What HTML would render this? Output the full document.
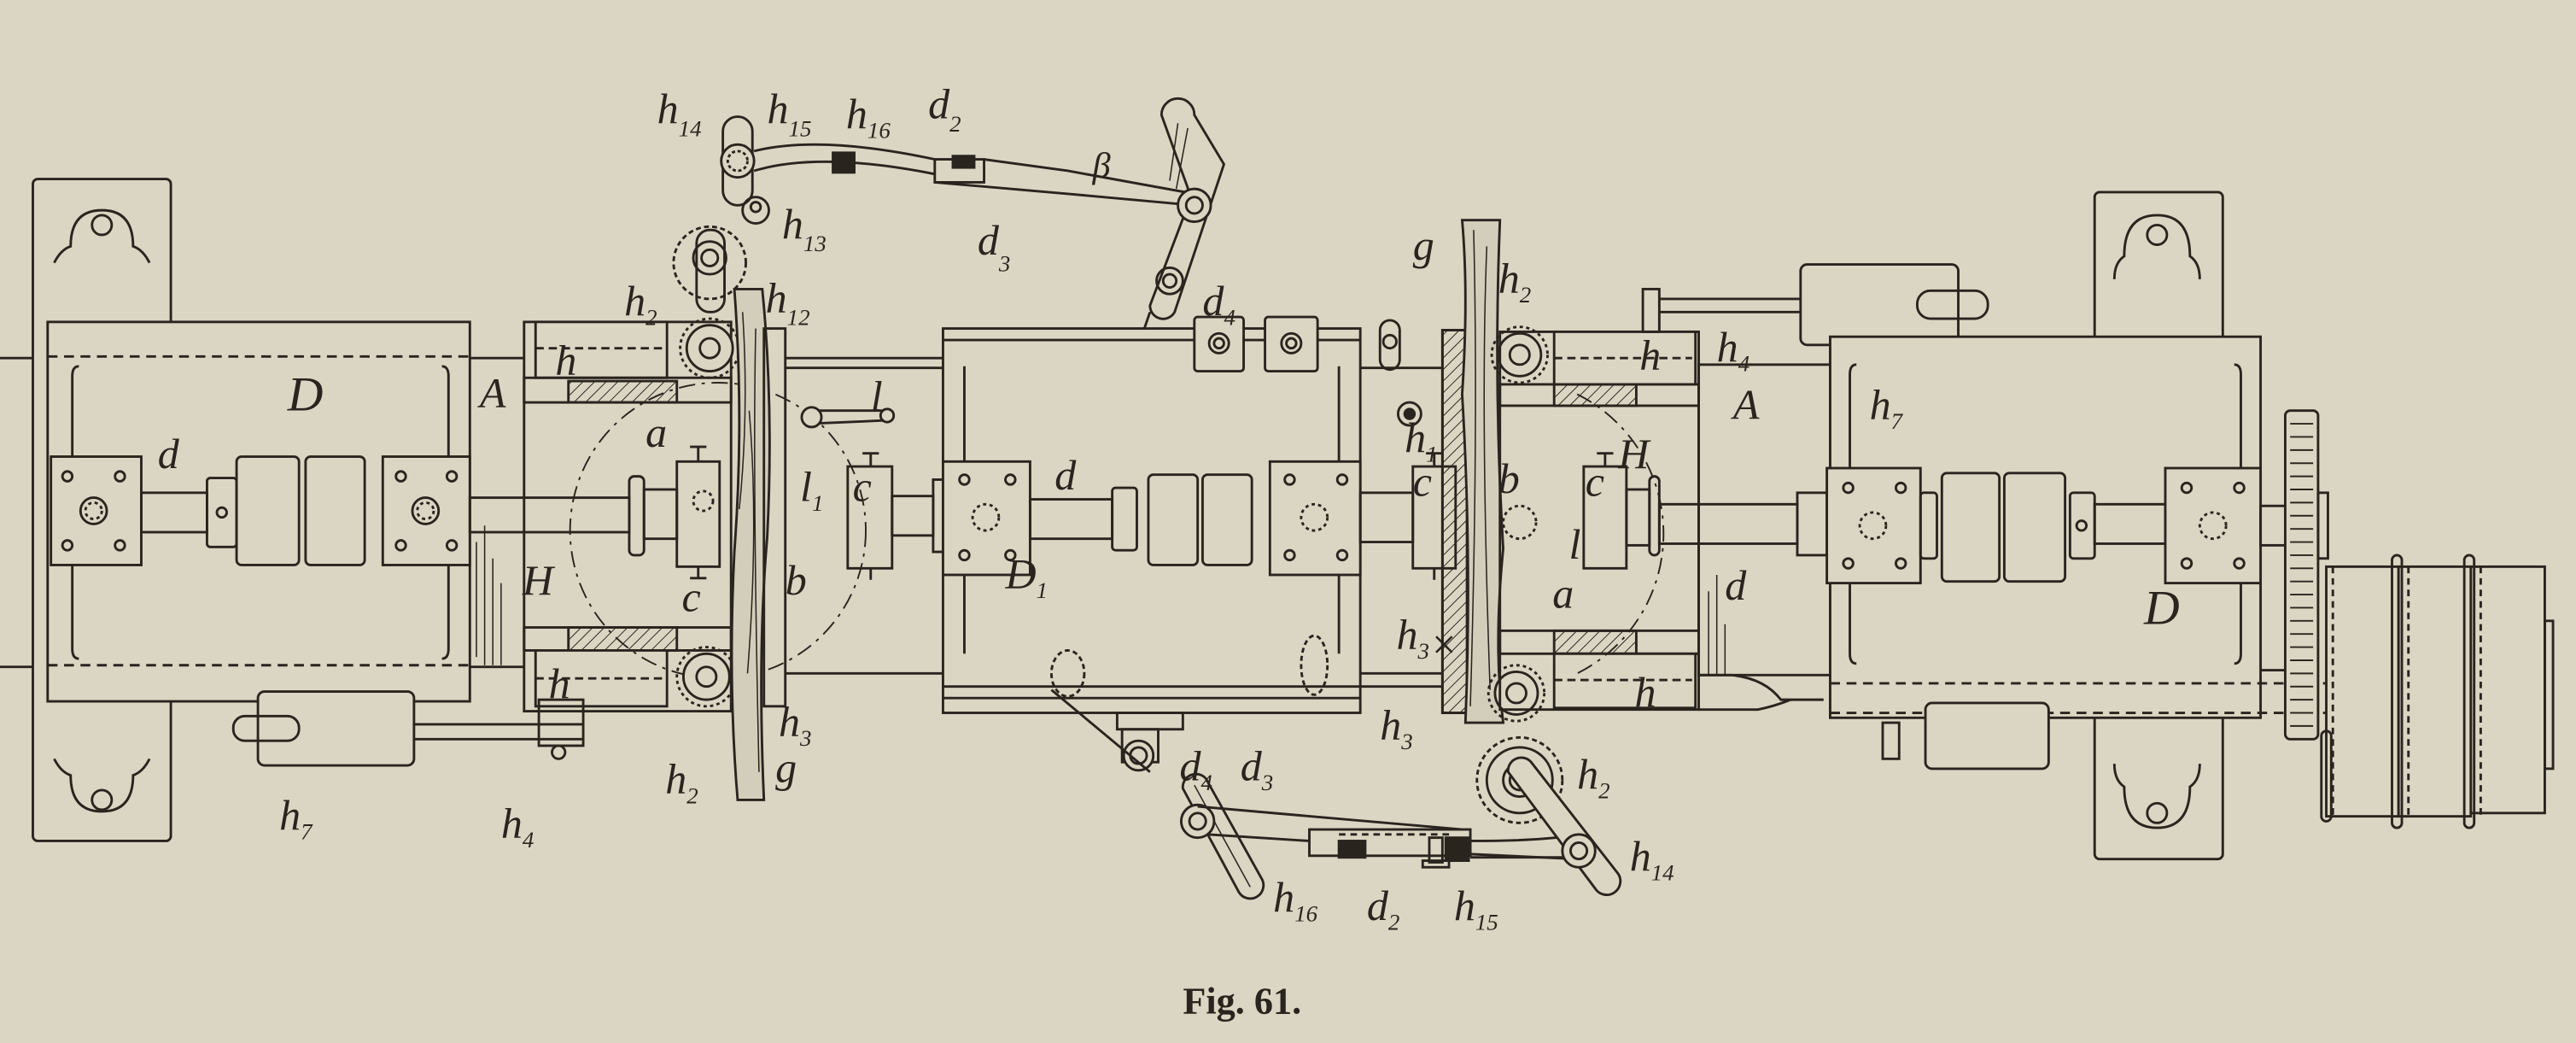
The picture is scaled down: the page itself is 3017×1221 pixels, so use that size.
<!DOCTYPE html>
<html><head><meta charset="utf-8"><style>
html,body{margin:0;padding:0;background:#dbd6c3;}
svg{display:block;}
.l{font-family:"Liberation Serif",serif;font-style:italic;fill:#2a241f;font-size:26px;}
.s{font-size:14px;}
</style></head><body>
<svg width="3017" height="1221" viewBox="0 0 1568 635" preserveAspectRatio="none" xmlns="http://www.w3.org/2000/svg">
<defs>
<pattern id="hat" width="5" height="5" patternUnits="userSpaceOnUse" patternTransform="rotate(45)"><line x1="0" y1="0" x2="0" y2="5" stroke="#2a241f" stroke-width="1"/></pattern>
</defs>
<rect width="1568" height="635" fill="#dbd6c3"/>
<g fill="none" stroke="#2a241f" stroke-width="1.5">
<rect x="20" y="109" width="84" height="403" rx="3"/>
<path d="M33 160 q4-8 10-10 q0-22 19-22 q19 0 19 22 q6 2 10 10"/>
<circle cx="62" cy="137" r="6"/>
<path d="M33 462 q4 8 10 10 q0 22 19 22 q19 0 19-22 q6-2 10-10"/>
<circle cx="62" cy="487" r="6"/>
<rect x="29" y="196" width="257" height="231" fill="#dbd6c3"/>
<line x1="29" y1="217" x2="286" y2="217" stroke-dasharray="6 4"/>
<line x1="29" y1="405" x2="286" y2="405" stroke-dasharray="6 4"/>
<path d="M48 223 q-4 0 -4 6 v166 q0 6 4 6"/>
<path d="M269 223 q4 0 4 6 v166 q0 6 -4 6"/>
<line x1="0" y1="218" x2="20" y2="218"/><line x1="0" y1="406" x2="20" y2="406"/>
<rect x="31" y="278" width="55" height="66" fill="#dbd6c3"/>
<circle cx="57" cy="311" r="8"/><circle cx="57" cy="311" r="5" stroke-dasharray="2 2"/>
<circle cx="41" cy="290" r="3"/><circle cx="73" cy="290" r="3"/><circle cx="41" cy="332" r="3"/><circle cx="73" cy="332" r="3"/>
<rect x="86" y="300" width="40" height="24"/>
<rect x="126" y="291" width="18" height="42" rx="2"/><circle cx="135" cy="312" r="3"/>
<rect x="144" y="278" width="38" height="66" rx="3"/>
<rect x="186" y="278" width="36" height="66" rx="3"/>
<rect x="233" y="278" width="53" height="66" fill="#dbd6c3"/>
<circle cx="259" cy="311" r="8"/><circle cx="259" cy="311" r="5" stroke-dasharray="2 2"/>
<circle cx="244" cy="290" r="3"/><circle cx="275" cy="290" r="3"/><circle cx="244" cy="332" r="3"/><circle cx="275" cy="332" r="3"/>
<rect x="286" y="303" width="97" height="21"/>
<rect x="383" y="290" width="9" height="48" rx="3"/>
<rect x="392" y="298" width="20" height="30"/>
<rect x="412" y="281" width="26" height="64"/>
<line x1="425" y1="281" x2="425" y2="272"/><line x1="420" y1="272" x2="430" y2="272"/>
<line x1="425" y1="345" x2="425" y2="352"/><line x1="420" y1="352" x2="430" y2="352"/>
<circle cx="428" cy="305" r="6" stroke-dasharray="2 2"/>
<line x1="286" y1="218" x2="319" y2="218"/><line x1="286" y1="406" x2="319" y2="406"/>
<g stroke-width="0.8"><line x1="290" y1="330" x2="290" y2="400"/><line x1="295" y1="320" x2="295" y2="405"/><line x1="300" y1="340" x2="300" y2="405"/><line x1="305" y1="355" x2="305" y2="405"/></g>
<rect x="319" y="196" width="126" height="237"/>
<rect x="326" y="196" width="80" height="34" fill="#dbd6c3"/>
<line x1="326" y1="212" x2="406" y2="212" stroke-dasharray="5 3"/>
<rect x="346" y="232" width="66" height="13" fill="url(#hat)"/>
<rect x="319" y="230" width="126" height="15"/>
<rect x="346" y="382" width="66" height="14" fill="url(#hat)"/>
<rect x="319" y="382" width="126" height="14"/>
<rect x="326" y="396" width="80" height="34" fill="#dbd6c3"/>
<line x1="326" y1="413" x2="406" y2="413" stroke-dasharray="5 3"/>
<circle cx="437" cy="323" r="90" stroke-dasharray="10 4 2 4" stroke-width="1"/>
<circle cx="432" cy="212" r="14" fill="#dbd6c3"/><circle cx="432" cy="212" r="6"/>
<circle cx="432" cy="212" r="18" stroke-dasharray="2 2"/>
<circle cx="430" cy="412" r="14" fill="#dbd6c3"/><circle cx="430" cy="412" r="6"/>
<circle cx="430" cy="412" r="18" stroke-dasharray="2 2"/>
<rect x="157" y="421" width="95" height="45" rx="4" fill="#dbd6c3"/>
<rect x="142" y="436" width="40" height="15" rx="7"/>
<line x1="252" y1="441" x2="355" y2="441"/><line x1="252" y1="450" x2="355" y2="450"/>
<rect x="328" y="426" width="27" height="28"/>
<circle cx="340" cy="458" r="4"/>
<path d="M447 176 q6 80 0 160 q-4 80 2 151 h16 q-4-90 2-160 q4-80-3-151 z" fill="#d3cebb"/>
<path d="M452 190 q4 60 -2 120 M456 250 q6 70 -1 160 M460 200 q-2 90 2 270" stroke-width="0.8"/>
<rect x="465" y="200" width="13" height="230"/>
<line x1="478" y1="218" x2="574" y2="218"/><line x1="478" y1="224" x2="574" y2="224"/>
<line x1="478" y1="410" x2="574" y2="410"/>
<rect x="440" y="71" width="18" height="54" rx="9"/>
<circle cx="449" cy="98" r="10" fill="#dbd6c3"/><circle cx="449" cy="98" r="6" stroke-dasharray="2 1.5"/>
<rect x="424" y="140" width="17" height="50" rx="8"/>
<circle cx="432" cy="157" r="10"/><circle cx="432" cy="157" r="5"/>
<circle cx="432" cy="160" r="22" stroke-dasharray="3 2"/>
<circle cx="460" cy="128" r="8"/><circle cx="460" cy="126" r="3"/>
<path d="M459 92 q40-10 110 5 M459 104 q40-12 110 2"/>
<rect x="507" y="93" width="13" height="12" fill="#2a241f"/>
<rect x="569" y="97" width="30" height="14"/><rect x="580" y="95" width="13" height="7" fill="#2a241f"/>
<path d="M569 111 L650 118 L727 125 M599 97 L650 104 L727 118"/>
<path d="M707 70 a10 10 0 0 1 20 0 L745 100 L715 190 a8 8 0 0 1 -15 -4 L725 120 Z" fill="#dbd6c3"/>
<path d="M717 75 L712 110 M723 78 L716 115" stroke-width="0.8"/>
<circle cx="727" cy="125" r="10" fill="#dbd6c3"/><circle cx="727" cy="125" r="5"/>
<circle cx="712" cy="171" r="8"/><circle cx="712" cy="171" r="4"/>
<line x1="700" y1="190" x2="688" y2="225"/>
<ellipse cx="695" cy="223" rx="8" ry="15" stroke-dasharray="3 2"/>
<line x1="492" y1="250" x2="538" y2="250"/><line x1="492" y1="258" x2="538" y2="256"/>
<circle cx="494" cy="254" r="6" fill="#dbd6c3"/><circle cx="540" cy="253" r="4"/>
<rect x="574" y="200" width="254" height="234" fill="#dbd6c3"/>
<line x1="574" y1="207" x2="828" y2="207"/><line x1="574" y1="418" x2="828" y2="418"/><line x1="574" y1="425" x2="828" y2="425"/>
<line x1="587" y1="223" x2="587" y2="398"/><line x1="815" y1="223" x2="815" y2="398"/>
<rect x="727" y="193" width="30" height="33" rx="2" fill="#dbd6c3"/><circle cx="742" cy="209" r="6"/><circle cx="742" cy="209" r="3"/>
<rect x="770" y="193" width="32" height="33" rx="2" fill="#dbd6c3"/><circle cx="786" cy="209" r="6"/><circle cx="786" cy="209" r="3"/>
<rect x="680" y="434" width="40" height="10"/>
<rect x="516" y="284" width="27" height="62"/><line x1="530" y1="284" x2="530" y2="276"/><line x1="525" y1="276" x2="535" y2="276"/><line x1="530" y1="346" x2="530" y2="353"/>
<rect x="543" y="302" width="25" height="24"/><rect x="568" y="292" width="6" height="44"/>
<rect x="574" y="281" width="53" height="69" fill="#dbd6c3"/>
<circle cx="600" cy="315" r="8" stroke-dasharray="2 2"/>
<circle cx="587" cy="292" r="3"/><circle cx="615" cy="292" r="3"/><circle cx="587" cy="338" r="3"/><circle cx="615" cy="338" r="3"/>
<rect x="627" y="304" width="50" height="24"/>
<rect x="677" y="297" width="15" height="38" rx="2"/>
<rect x="699" y="289" width="30" height="55" rx="3"/><rect x="732" y="289" width="30" height="55" rx="3"/>
<rect x="773" y="281" width="55" height="69" fill="#dbd6c3"/>
<circle cx="800" cy="315" r="8" stroke-dasharray="2 2"/>
<circle cx="785" cy="292" r="3"/><circle cx="817" cy="292" r="3"/><circle cx="785" cy="338" r="3"/><circle cx="817" cy="338" r="3"/>
<rect x="828" y="300" width="32" height="30"/>
<rect x="860" y="284" width="26" height="62"/><line x1="873" y1="284" x2="873" y2="276"/><line x1="868" y1="276" x2="878" y2="276"/><line x1="873" y1="346" x2="873" y2="353"/>
<ellipse cx="800" cy="405" rx="8" ry="18" stroke-dasharray="3 2"/>
<ellipse cx="650" cy="410" rx="10" ry="14" stroke-dasharray="3 2"/>
<line x1="828" y1="224" x2="878" y2="224"/><line x1="828" y1="410" x2="878" y2="410"/><line x1="828" y1="418" x2="878" y2="418"/>
<rect x="840" y="195" width="12" height="30" rx="6"/><circle cx="846" cy="208" r="4"/>
<circle cx="858" cy="252" r="7"/><circle cx="858" cy="252" r="3" fill="#2a241f"/>
<rect x="878" y="201" width="15" height="233" fill="url(#hat)"/>
<rect x="878" y="201" width="15" height="233"/>
<path d="M890 134 h23 q-4 100 2 200 q-6 60 0 106 h-23 q4-100 -2-200 q4-60 0-106 z" fill="#d3cebb"/>
<path d="M897 140 q3 120 -2 290 M905 150 q-4 100 2 270" stroke-width="0.8"/>
<circle cx="925" cy="216" r="13" fill="#dbd6c3"/><circle cx="925" cy="216" r="6"/><circle cx="925" cy="216" r="17" stroke-dasharray="2 2"/>
<circle cx="923" cy="422" r="13" fill="#dbd6c3"/><circle cx="923" cy="422" r="6"/><circle cx="923" cy="422" r="17" stroke-dasharray="2 2"/>
<circle cx="925" cy="475" r="20" fill="#dbd6c3"/><circle cx="925" cy="475" r="10"/><circle cx="925" cy="475" r="6"/><circle cx="925" cy="475" r="26" stroke-dasharray="3 2"/>
<rect x="913" y="202" width="121" height="230"/>
<rect x="946" y="202" width="86" height="32" fill="#dbd6c3"/><line x1="946" y1="218" x2="1030" y2="218" stroke-dasharray="5 3"/>
<rect x="946" y="234" width="50" height="13" fill="url(#hat)"/><rect x="913" y="234" width="121" height="13"/>
<rect x="946" y="384" width="50" height="14" fill="url(#hat)"/><rect x="913" y="384" width="121" height="14"/>
<rect x="946" y="398" width="86" height="33" fill="#dbd6c3"/><line x1="946" y1="414" x2="1030" y2="414" stroke-dasharray="5 3"/>
<path d="M960 240 a95 95 0 0 1 0 170" stroke-dasharray="10 4 2 4" stroke-width="1"/>
<circle cx="925" cy="318" r="10" stroke-dasharray="2 2"/>
<rect x="964" y="284" width="26" height="62"/><line x1="977" y1="284" x2="977" y2="276"/><line x1="972" y1="276" x2="982" y2="276"/>
<rect x="990" y="298" width="14" height="34"/><rect x="1004" y="290" width="6" height="48" rx="3"/>
<rect x="1010" y="307" width="84" height="24"/>
<rect x="1034" y="222" width="80" height="189"/>
<g stroke-width="0.8"><line x1="1040" y1="360" x2="1040" y2="411"/><line x1="1045" y1="350" x2="1045" y2="411"/><line x1="1050" y1="380" x2="1050" y2="411"/></g>
<path d="M1034 411 h20 q20 2 30 15 h26 M1034 432 h36 q10-2 20-6"/>
<rect x="1000" y="176" width="10" height="26"/><line x1="1010" y1="182" x2="1096" y2="182"/><line x1="1010" y1="190" x2="1096" y2="190"/>
<rect x="1096" y="161" width="96" height="49" rx="4" fill="#dbd6c3"/>
<rect x="1167" y="177" width="43" height="17" rx="8"/>
<rect x="1275" y="117" width="78" height="406" rx="3"/>
<path d="M1287 170 q0-10 6-14 q0-25 20-25 q20 0 20 25 q6 4 6 14"/><circle cx="1313" cy="143" r="6"/>
<path d="M1287 465 q0 10 6 14 q0 25 20 25 q20 0 20-25 q6-4 6-14"/><circle cx="1313" cy="495" r="6"/>
<rect x="1114" y="205" width="262" height="232" fill="#dbd6c3"/>
<path d="M1130 222 q-4 0 -4 6 v170 q0 6 4 6"/><path d="M1360 222 q4 0 4 6 v170 q0 6 -4 6"/>
<line x1="1114" y1="416" x2="1460" y2="416" stroke-dasharray="6 4"/>
<line x1="1114" y1="434" x2="1460" y2="434" stroke-dasharray="6 4"/>
<line x1="1376" y1="408" x2="1392" y2="408"/>
<rect x="1094" y="300" width="18" height="38"/>
<rect x="1112" y="285" width="57" height="70" fill="#dbd6c3"/>
<circle cx="1140" cy="320" r="8" stroke-dasharray="2 2"/>
<circle cx="1125" cy="297" r="3"/><circle cx="1157" cy="297" r="3"/><circle cx="1125" cy="343" r="3"/><circle cx="1157" cy="343" r="3"/>
<rect x="1169" y="300" width="10" height="40" rx="2"/>
<rect x="1182" y="288" width="35" height="66" rx="3"/><rect x="1220" y="288" width="37" height="66" rx="3"/>
<rect x="1260" y="300" width="15" height="40" rx="2"/><circle cx="1267" cy="320" r="3"/>
<rect x="1275" y="307" width="43" height="24"/>
<rect x="1318" y="285" width="58" height="70" fill="#dbd6c3"/>
<circle cx="1347" cy="320" r="8" stroke-dasharray="2 2"/>
<circle cx="1331" cy="297" r="3"/><circle cx="1363" cy="297" r="3"/><circle cx="1331" cy="343" r="3"/><circle cx="1363" cy="343" r="3"/>
<rect x="1376" y="308" width="15" height="24"/>
<rect x="1172" y="428" width="75" height="40" rx="4" fill="#dbd6c3"/><rect x="1146" y="440" width="10" height="22"/>
<rect x="1391" y="250" width="20" height="200" rx="3" fill="#dbd6c3"/>
<path d="M1394 258 h14 M1394 266 h14 M1394 274 h14 M1394 282 h14 M1394 290 h14 M1394 298 h14 M1394 306 h14 M1394 314 h14 M1394 322 h14 M1394 330 h14 M1394 338 h14 M1394 346 h14 M1394 354 h14 M1394 362 h14 M1394 370 h14 M1394 378 h14 M1394 386 h14 M1394 394 h14 M1394 402 h14 M1394 410 h14 M1394 418 h14 M1394 426 h14 M1394 434 h14 M1394 442 h14" stroke-width="1"/>
<rect x="1411" y="300" width="6" height="40"/>
<rect x="1416" y="345" width="44" height="152" fill="#dbd6c3"/>
<rect x="1460" y="345" width="44" height="152" fill="#dbd6c3"/>
<rect x="1504" y="345" width="45" height="150" fill="#dbd6c3"/>
<line x1="1420" y1="345" x2="1420" y2="497" stroke-dasharray="4 3"/>
<line x1="1466" y1="345" x2="1466" y2="497" stroke-dasharray="4 3"/>
<line x1="1510" y1="345" x2="1510" y2="497" stroke-dasharray="4 3"/>
<rect x="1456" y="338" width="6" height="166" rx="3"/><rect x="1500" y="338" width="6" height="166" rx="3"/>
<rect x="1413" y="445" width="6" height="55" rx="3"/>
<rect x="1549" y="378" width="5" height="90"/>
<rect x="683" y="444" width="22" height="20"/>
<circle cx="693" cy="460" r="9" fill="#dbd6c3"/><circle cx="693" cy="460" r="5"/>
<line x1="640" y1="420" x2="700" y2="470"/>
<path d="M720 480 a8 8 0 0 1 14 -6 L768 535 a8 8 0 0 1 -14 8 Z" fill="#dbd6c3"/>
<path d="M727 478 L761 540" stroke-width="0.8"/>
<circle cx="729" cy="500" r="10" fill="#dbd6c3"/><circle cx="729" cy="500" r="5"/>
<path d="M729 491 L890 505 M735 508 L797 512 L895 520 L960 523"/>
<rect x="797" y="505" width="98" height="16" fill="#dbd6c3"/>
<line x1="815" y1="508" x2="885" y2="508" stroke-dasharray="4 3"/>
<rect x="815" y="512" width="16" height="10" fill="#2a241f"/>
<rect x="870" y="510" width="8" height="15"/><rect x="866" y="524" width="16" height="4"/>
<rect x="880" y="510" width="14" height="14" fill="#2a241f"/>
<path d="M895 512 q40 0 60 -3 M895 522 h60"/>
<path d="M918 470 a8 8 0 0 1 14 -6 L985 532 a8 8 0 0 1 -14 9 Z" fill="#dbd6c3"/>
<circle cx="961" cy="518" r="10" fill="#dbd6c3"/><circle cx="961" cy="518" r="5"/>
</g>
<g class="l">
<text x="400" y="75">h<tspan class="s" dy="8">14</tspan></text>
<text x="467" y="75">h<tspan class="s" dy="8">15</tspan></text>
<text x="515" y="78">h<tspan class="s" dy="6">16</tspan></text>
<text x="565" y="72">d<tspan class="s" dy="8">2</tspan></text>
<text x="665" y="108" style="font-size:22px">β</text>
<text x="476" y="145">h<tspan class="s" dy="8">13</tspan></text>
<text x="466" y="190">h<tspan class="s" dy="8">12</tspan></text>
<text x="380" y="192">h<tspan class="s" dy="6">2</tspan></text>
<text x="595" y="155">d<tspan class="s" dy="10">3</tspan></text>
<text x="732" y="192">d<tspan class="s" dy="6">4</tspan></text>
<text x="96" y="285">d</text>
<text x="175" y="250" style="font-size:30px">D</text>
<text x="292" y="248">A</text>
<text x="338" y="228">h</text>
<text x="393" y="272">a</text>
<text x="415" y="372">c</text>
<text x="318" y="362">H</text>
<text x="478" y="362">b</text>
<text x="530" y="250">l</text>
<text x="487" y="305">l<tspan class="s" dy="6">1</tspan></text>
<text x="519" y="305">c</text>
<text x="642" y="298">d</text>
<text x="612" y="358">D<tspan class="s" dy="6">1</tspan></text>
<text x="334" y="425">h</text>
<text x="405" y="483">h<tspan class="s" dy="6">2</tspan></text>
<text x="474" y="448">h<tspan class="s" dy="6">3</tspan></text>
<text x="472" y="476">g</text>
<text x="170" y="505">h<tspan class="s" dy="6">7</tspan></text>
<text x="305" y="510">h<tspan class="s" dy="6">4</tspan></text>
<text x="860" y="158">g</text>
<text x="912" y="178">h<tspan class="s" dy="6">2</tspan></text>
<text x="855" y="275">h<tspan class="s" dy="6">1</tspan></text>
<text x="912" y="300">b</text>
<text x="860" y="302">c</text>
<text x="965" y="302">c</text>
<text x="985" y="285">H</text>
<text x="955" y="340">l</text>
<text x="945" y="370">a</text>
<text x="850" y="395">h<tspan class="s" dy="6">3</tspan>×</text>
<text x="840" y="450">h<tspan class="s" dy="6">3</tspan></text>
<text x="995" y="430">h</text>
<text x="960" y="480">h<tspan class="s" dy="6">2</tspan></text>
<text x="992" y="530">h<tspan class="s" dy="6">14</tspan></text>
<text x="1045" y="220">h<tspan class="s" dy="6">4</tspan></text>
<text x="998" y="225">h</text>
<text x="1055" y="255">A</text>
<text x="1138" y="255">h<tspan class="s" dy="6">7</tspan></text>
<text x="1050" y="365">d</text>
<text x="1305" y="380" style="font-size:30px">D</text>
<text x="718" y="475">d<tspan class="s" dy="6">4</tspan></text>
<text x="755" y="475">d<tspan class="s" dy="6">3</tspan></text>
<text x="775" y="555">h<tspan class="s" dy="6">16</tspan></text>
<text x="832" y="560">d<tspan class="s" dy="6">2</tspan></text>
<text x="885" y="560">h<tspan class="s" dy="6">15</tspan></text>
</g>
<text x="720" y="617" style="font-family:'Liberation Serif',serif;font-weight:bold;font-size:23px;fill:#2a241f">Fig. 61.</text>
</svg>
</body></html>
